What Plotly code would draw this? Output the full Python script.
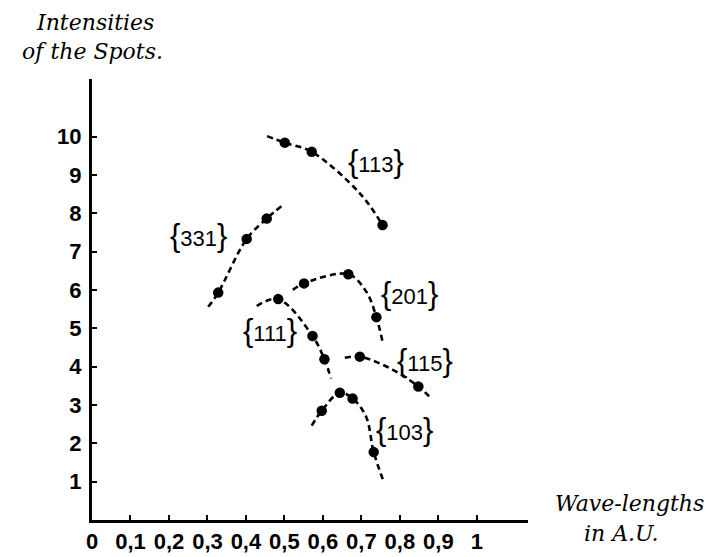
import plotly.graph_objects as go

# ---- data ----
x_ticks = [0, 0.1, 0.2, 0.3, 0.4, 0.5, 0.6, 0.7, 0.8, 0.9, 1.0]
x_ticktext = ["0", "0,1", "0,2", "0,3", "0,4", "0,5", "0,6", "0,7", "0,8", "0,9", "1"]
y_ticks = [1, 2, 3, 4, 5, 6, 7, 8, 9, 10]
y_ticktext = ["1", "2", "3", "4", "5", "6", "7", "8", "9", "10"]

series_names = ["113", "331", "201", "111", "115", "103"]

# measured spots (wave-length, intensity)
pts_113_x = [0.501, 0.571, 0.755]
pts_113_y = [9.84, 9.60, 7.69]
pts_331_x = [0.328, 0.402, 0.454]
pts_331_y = [5.93, 7.33, 7.86]
pts_201_x = [0.551, 0.666, 0.739]
pts_201_y = [6.17, 6.41, 5.29]
pts_111_x = [0.484, 0.573, 0.604]
pts_111_y = [5.76, 4.80, 4.19]
pts_115_x = [0.696, 0.848]
pts_115_y = [4.26, 3.48]
pts_103_x = [0.597, 0.644, 0.677, 0.732]
pts_103_y = [2.85, 3.32, 3.17, 1.77]

# dashed curves drawn through the spots (nodes)
crv_113_x = [0.455, 0.501, 0.571, 0.696, 0.755]
crv_113_y = [10.01, 9.84, 9.60, 8.52, 7.69]
crv_331_x = [0.302, 0.328, 0.402, 0.454, 0.493]
crv_331_y = [5.56, 5.93, 7.33, 7.86, 8.19]
crv_201_x = [0.522, 0.551, 0.666, 0.713, 0.739, 0.755]
crv_201_y = [6.00, 6.17, 6.41, 5.95, 5.29, 4.65]
crv_111_x = [0.428, 0.484, 0.573, 0.604, 0.621]
crv_111_y = [5.58, 5.76, 4.80, 4.19, 3.69]
crv_115_x = [0.657, 0.696, 0.783, 0.848, 0.882]
crv_115_y = [4.23, 4.26, 3.91, 3.48, 3.17]
crv_103_x = [0.571, 0.597, 0.644, 0.677, 0.712, 0.732, 0.758]
crv_103_y = [2.46, 2.85, 3.32, 3.17, 2.70, 1.77, 1.00]

points = {
    "113": (pts_113_x, pts_113_y), "331": (pts_331_x, pts_331_y),
    "201": (pts_201_x, pts_201_y), "111": (pts_111_x, pts_111_y),
    "115": (pts_115_x, pts_115_y), "103": (pts_103_x, pts_103_y),
}
curves = {
    "113": (crv_113_x, crv_113_y), "331": (crv_331_x, crv_331_y),
    "201": (crv_201_x, crv_201_y), "111": (crv_111_x, crv_111_y),
    "115": (crv_115_x, crv_115_y), "103": (crv_103_x, crv_103_y),
}
label_pos = {
    "113": (0.739, 9.34), "331": (0.276, 7.43), "201": (0.826, 5.91),
    "111": (0.462, 4.95), "115": (0.865, 4.17), "103": (0.813, 2.35),
}

SANS = "Liberation Sans, Arial, sans-serif"
SERIF = "DejaVu Serif, Liberation Serif, serif"

# page is drawn inside an 8px body margin
W, H = 707, 549
L, T, R, B = 84, 71, 187, 37
PW, PH = W - L - R, H - T - B


def px_to_paper(px, py):
    # page pixel -> paper coords
    return (px - 8 - L) / PW, (H - B - (py - 8)) / PH


fig = go.Figure()
for name in series_names:
    cx, cy = curves[name]
    fig.add_trace(go.Scatter(
        x=cx, y=cy, mode="lines",
        line=dict(color="black", width=2.6, dash="6px,4px", shape="spline"),
        hoverinfo="skip", showlegend=False))
    px, py = points[name]
    fig.add_trace(go.Scatter(
        x=px, y=py, mode="markers", marker=dict(color="black", size=10.5),
        name="{" + name + "}", showlegend=False))

for name in series_names:
    lx, ly = label_pos[name]
    fig.add_annotation(
        x=lx, y=ly, xref="x", yref="y", showarrow=False, xanchor="center", yanchor="middle",
        text='<span style="font-size:31px">{</span>' + name + '<span style="font-size:31px">}</span>',
        font=dict(family=SANS, size=22, color="black"))

titles = [("<i>Intensities</i>", 95, 22), ("<i>of the Spots.</i>", 92, 52),
          ("<i>Wave-lengths</i>", 629, 503), ("<i>in A.U.</i>", 621, 533)]
for txt, tx, ty in titles:
    ax, ay = px_to_paper(tx, ty)
    fig.add_annotation(xref="paper", yref="paper", x=ax, y=ay, text=txt, showarrow=False,
                       xanchor="center", yanchor="middle",
                       font=dict(family=SERIF, size=22, color="black"))

fig.update_layout(
    width=W, height=H,
    margin=dict(l=L, r=R, t=T, b=B, autoexpand=False),
    paper_bgcolor="white", plot_bgcolor="white",
    xaxis=dict(range=[0, 1.133], tickvals=x_ticks, ticktext=x_ticktext,
               showgrid=False, zeroline=False, showline=True, linecolor="black", linewidth=3,
               ticks="inside", ticklen=5, tickwidth=2, tickcolor="black",
               tickfont=dict(family=SANS, size=22, color="black", weight="bold"),
               fixedrange=True),
    yaxis=dict(range=[0, 11.5], tickvals=y_ticks, ticktext=y_ticktext,
               showgrid=False, zeroline=False, showline=True, linecolor="black", linewidth=3,
               ticks="inside", ticklen=5, tickwidth=2, tickcolor="black",
               tickfont=dict(family=SANS, size=22, color="black", weight="bold"),
               ticklabelstandoff=3,
               fixedrange=True),
)

fig.write_html("out.html")
